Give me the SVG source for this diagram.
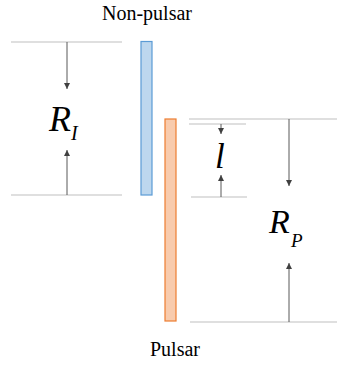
<svg xmlns="http://www.w3.org/2000/svg" width="337" height="365" viewBox="0 0 337 365">
<defs>
<marker id="ah" viewBox="0 0 6 6" refX="6" refY="3" markerWidth="6" markerHeight="6" orient="auto" markerUnits="userSpaceOnUse">
<path d="M0,0 L6,3 L0,6 Z" fill="#404040"/>
</marker>
</defs>
<rect width="337" height="365" fill="#fff"/>
<g id="connectors">
<g stroke="#bfbfbf" stroke-width="1.2" fill="none">
<line x1="11" y1="42" x2="122" y2="42"/>
<line x1="11" y1="195" x2="122" y2="195"/>
<line x1="189" y1="119" x2="337" y2="119"/>
<line x1="189" y1="124" x2="246" y2="124"/>
<line x1="191" y1="197" x2="247" y2="197"/>
<line x1="190" y1="322" x2="337" y2="322"/>
</g>
<g stroke="#595959" stroke-width="1" fill="none" marker-end="url(#ah)">
<path d="M67,42 V89"/>
<path d="M67,195 V150"/>
<path d="M221,124 V134"/>
<path d="M221,197 V175"/>
<path d="M289,119 V186"/>
<path d="M289,322 V263"/>
</g>
</g>
<g id="non-pulsar">
<rect x="141" y="41.5" width="11" height="153.5" fill="#bdd7ee" stroke="#5b9bd5" stroke-width="1.2"/>
<text x="147" y="20" text-anchor="middle" font-size="20" font-family="'Liberation Serif', Tinos, 'Noto Serif', serif">Non-pulsar</text>
</g>
<g id="pulsar">
<rect x="165" y="119" width="11" height="202" fill="#f8cbad" stroke="#ed7d31" stroke-width="1.2"/>
<text x="175" y="356" text-anchor="middle" font-size="20" font-family="'Liberation Serif', Tinos, 'Noto Serif', serif">Pulsar</text>
</g>
<g id="label-RI">
<text x="49" y="131" font-size="36" font-style="italic" font-family="'Liberation Serif', Tinos, 'Noto Serif', serif">R</text>
<text x="71" y="140" font-size="20" font-style="italic" font-family="'Liberation Serif', Tinos, 'Noto Serif', serif">I</text>
</g>
<g id="label-l">
<text x="215" y="168" font-size="35" font-style="italic" font-family="'Liberation Serif', Tinos, 'Noto Serif', serif">l</text>
</g>
<g id="label-RP">
<text x="269" y="233" font-size="34" font-style="italic" font-family="'Liberation Serif', Tinos, 'Noto Serif', serif">R</text>
<text x="291" y="247" font-size="19" font-style="italic" font-family="'Liberation Serif', Tinos, 'Noto Serif', serif">P</text>
</g>
</svg>
